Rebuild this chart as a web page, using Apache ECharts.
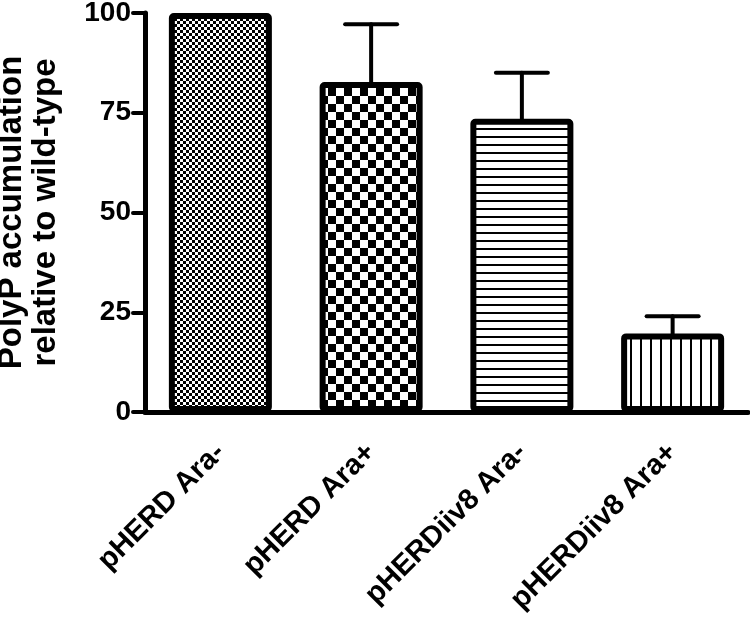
<!DOCTYPE html>
<html>
<head>
<meta charset="utf-8">
<script src="https://cdn.jsdelivr.net/npm/echarts@6/dist/echarts.min.js"></script>
<style>
  html, body { margin: 0; padding: 0; background: #fff; }
  #chart { width: 750px; height: 621px; }
</style>
</head>
<body>
<div id="chart"></div>
<script>
// data
var categories = ['pHERD Ara-', 'pHERD Ara+', 'pHERDiiv8 Ara-', 'pHERDiiv8 Ara+'];
var means = [100, 82.7, 73.5, 19.7];
var errors = [0, 14.5, 11.5, 4.3];
var yTicks = [0, 25, 50, 75, 100];

// fill patterns drawn on small canvases
function makePattern(kind) {
  var c = document.createElement('canvas');
  var ctx;
  if (kind == 'fineCheck' || kind == 'coarseCheck') {
    var s = kind == 'fineCheck' ? 3 : 8;
    c.width = s * 2; c.height = s * 2;
    ctx = c.getContext('2d');
    ctx.fillStyle = '#fff'; ctx.fillRect(0, 0, c.width, c.height);
    ctx.fillStyle = '#000';
    ctx.fillRect(0, 0, s, s);
    ctx.fillRect(s, s, s, s);
  } else if (kind == 'hLines') {
    c.width = 8; c.height = 8;
    ctx = c.getContext('2d');
    ctx.fillStyle = '#fff'; ctx.fillRect(0, 0, 8, 8);
    ctx.fillStyle = '#000'; ctx.fillRect(0, 0, 8, 2);
  } else {
    c.width = 10; c.height = 10;
    ctx = c.getContext('2d');
    ctx.fillStyle = '#fff'; ctx.fillRect(0, 0, 10, 10);
    ctx.fillStyle = '#000'; ctx.fillRect(0, 0, 2, 10);
  }
  return { image: c, repeat: 'repeat' };
}

var patterns = ['fineCheck', 'coarseCheck', 'hLines', 'vLines'];
var font = 'Liberation Sans, Arial, sans-serif';

var barData = means.map(function (v, i) {
  return {
    value: v,
    itemStyle: { color: makePattern(patterns[i]) }
  };
});

var errData = means.map(function (v, i) { return [i, v, errors[i]]; });

var chart = echarts.init(document.getElementById('chart'));

chart.setOption({
  animation: false,
  grid: { left: 145, right: 2, top: 13, bottom: 209, containLabel: false, outerBoundsMode: 'none' },
  xAxis: {
    type: 'category',
    data: categories,
    axisLine: { lineStyle: { color: '#000', width: 5 } },
    axisTick: { alignWithLabel: true, length: 12, lineStyle: { color: '#000', width: 4, cap: 'round' } },
    axisLabel: {
      interval: 0, rotate: 45, margin: 36,
      color: '#000', fontSize: 29, fontWeight: 'bold', fontFamily: font
    }
  },
  yAxis: {
    type: 'value',
    min: 0, max: 100, interval: 25,
    splitLine: { show: false },
    axisLine: { show: true, lineStyle: { color: '#000', width: 5 } },
    axisTick: { show: true, length: 12, lineStyle: { color: '#000', width: 4, cap: 'round' } },
    axisLabel: {
      margin: 14, color: '#000', fontSize: 28, fontWeight: 'bold', fontFamily: font,
      formatter: function (v) { return yTicks.indexOf(v) >= 0 ? String(v) : ''; }
    },
    name: 'PolyP accumulation\nrelative to wild-type',
    nameLocation: 'middle',
    nameRotate: 90,
    nameGap: 82,
    nameTextStyle: { color: '#000', fontSize: 33, fontWeight: 'bold', fontFamily: font, lineHeight: 34 }
  },
  series: [
    {
      type: 'custom',
      z: 1,
      data: errData,
      renderItem: function (params, api) {
        var err = api.value(2);
        if (!err) return;
        var x = api.value(0);
        var lo = api.coord([x, api.value(1)]);
        var hi = api.coord([x, api.value(1) + err]);
        var half = 26;
        var style = { stroke: '#000', lineWidth: 4, lineCap: 'round' };
        return {
          type: 'group',
          children: [
            { type: 'line', shape: { x1: lo[0], y1: lo[1], x2: hi[0], y2: hi[1] }, style: style },
            { type: 'line', shape: { x1: hi[0] - half, y1: hi[1], x2: hi[0] + half, y2: hi[1] }, style: style }
          ]
        };
      }
    },
    {
      type: 'bar',
      z: 2,
      data: barData,
      barWidth: 103,
      itemStyle: { borderColor: '#000', borderWidth: 6, borderRadius: 2 }
    }
  ]
});
</script>
</body>
</html>
